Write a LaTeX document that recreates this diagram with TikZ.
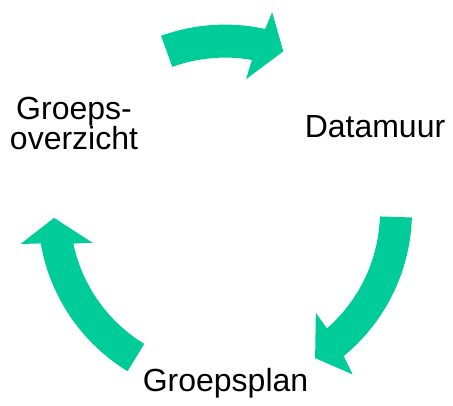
\documentclass[tikz,border=0pt]{standalone}
\usepackage{fontspec}
\setmainfont{Liberation Sans}
\definecolor{cyclegreen}{HTML}{00CC99}
\begin{document}
\begin{tikzpicture}[
			x=1pt, y=1pt,
			every node/.style={font=\fontsize{32}{30}\selectfont, inner sep=0, align=center},
			cyclearrow/.style={fill=cyclegreen, draw=none},
		]
		\useasboundingbox (0,0) rectangle (453,405);
		\node[anchor=base] (overzicht) at (74,255) {Groeps-\\overzicht};
		\node[anchor=base] (datamuur) at (375,267.3) {Datamuur};
		\node[anchor=base] (plan) at (225.5,13.3) {Groepsplan};
		\begin{scope}[shift={(225,193.4)}]
			% top arrow
			\path[cyclearrow] (110:187pt) arc[start angle=110, end angle=77.6, radius=187pt]
				-- (76.7:205pt) -- (70:170.5pt) -- (81:134pt) -- (79.9:154pt)
				arc[start angle=79.9, end angle=110, radius=154pt] -- cycle;
			% right arrow
			\path[cyclearrow] (-1.8:187pt) arc[start angle=-1.8, end angle=-50.6, radius=187pt]
				-- (-51.9:207pt) -- (-58.4:172pt) -- (-48.1:136pt) -- (-48.9:155pt)
				arc[start angle=-48.9, end angle=-1.8, radius=155pt] -- cycle;
			% left arrow
			\path[cyclearrow] (238.6:187pt) arc[start angle=238.6, end angle=189.8, radius=187pt]
				-- (189:207pt) -- (182.1:171pt) -- (193.3:136pt) -- (191.9:155pt)
				arc[start angle=191.9, end angle=238.6, radius=155pt] -- cycle;
		\end{scope}
\end{tikzpicture}
\end{document}
